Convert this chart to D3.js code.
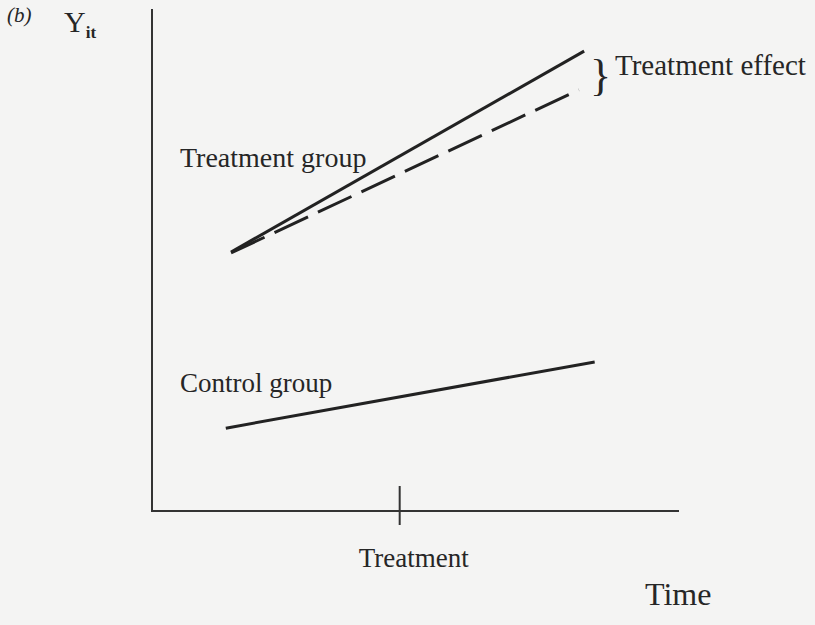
<!DOCTYPE html>
<html>
<head>
<meta charset="utf-8">
<script src="https://cdnjs.cloudflare.com/ajax/libs/d3/7.8.5/d3.min.js"></script>
<style>
  html, body { margin: 0; padding: 0; background: #f4f4f3; }
  svg { display: block; }
  text { font-family: "Liberation Serif", "Times New Roman", serif; fill: #262626; }
</style>
</head>
<body>
<svg id="chart"></svg>
<script>
// time runs 0..10, outcome runs 0..10 (schematic units)
const treatmentTime = 4.7;
const treatedTimes = [1.5, 8.2];
const treatedValues = [5.16, 9.16];
const counterTimes = [1.5, 8.1];
const counterValues = [5.14, 8.39];
const controlTimes = [1.4, 8.4];
const controlValues = [1.65, 2.97];
const axisLabels = { x: "Time", y: "Y", ySub: "it", tick: "Treatment" };

const width = 815, height = 625;
const svg = d3.select("#chart").attr("width", width).attr("height", height);

const x = d3.scaleLinear().domain([0, 10]).range([152, 679]);
const y = d3.scaleLinear().domain([0, 10]).range([511, 9]);

const line = d3.line().x(d => x(d[0])).y(d => y(d[1]));

// axes
svg.append("path")
  .attr("d", `M${x(0)},${y(10)}V${y(0)}H${x(10)}`)
  .attr("fill", "none")
  .attr("stroke", "#333")
  .attr("stroke-width", 2);

svg.append("line")
  .attr("x1", x(treatmentTime)).attr("x2", x(treatmentTime))
  .attr("y1", y(0) - 25).attr("y2", y(0) + 14)
  .attr("stroke", "#333")
  .attr("stroke-width", 2);

// lines
svg.append("path")
  .attr("d", line(d3.zip(treatedTimes, treatedValues)))
  .attr("fill", "none").attr("stroke", "#222").attr("stroke-width", 3);

svg.append("path")
  .attr("d", line(d3.zip(counterTimes, counterValues)))
  .attr("fill", "none").attr("stroke", "#222").attr("stroke-width", 3)
  .attr("stroke-dasharray", "37,11");

svg.append("path")
  .attr("d", line(d3.zip(controlTimes, controlValues)))
  .attr("fill", "none").attr("stroke", "#222").attr("stroke-width", 3);

// labels
svg.append("text").attr("x", 7).attr("y", 22)
  .attr("font-size", 21).attr("font-style", "italic").text("(b)");

const yl = svg.append("text").attr("x", 64).attr("y", 32).attr("font-size", 30);
yl.append("tspan").text(axisLabels.y);
yl.append("tspan").attr("font-size", 17).attr("font-weight", "bold").attr("dy", 6).text(axisLabels.ySub);

svg.append("text").attr("x", 180).attr("y", 167).attr("font-size", 28).text("Treatment group");
svg.append("text").attr("x", 180).attr("y", 392).attr("font-size", 27).text("Control group");
svg.append("text").attr("x", 615).attr("y", 75).attr("font-size", 29).text("Treatment effect");
svg.append("text").attr("x", 590).attr("y", 90).attr("font-size", 44).attr("font-weight", 300).text("}");

svg.append("text").attr("x", x(treatmentTime) + 14).attr("y", 567)
  .attr("text-anchor", "middle").attr("font-size", 27).text(axisLabels.tick);
svg.append("text").attr("x", 645).attr("y", 605).attr("font-size", 32).text(axisLabels.x);
</script>
</body>
</html>
